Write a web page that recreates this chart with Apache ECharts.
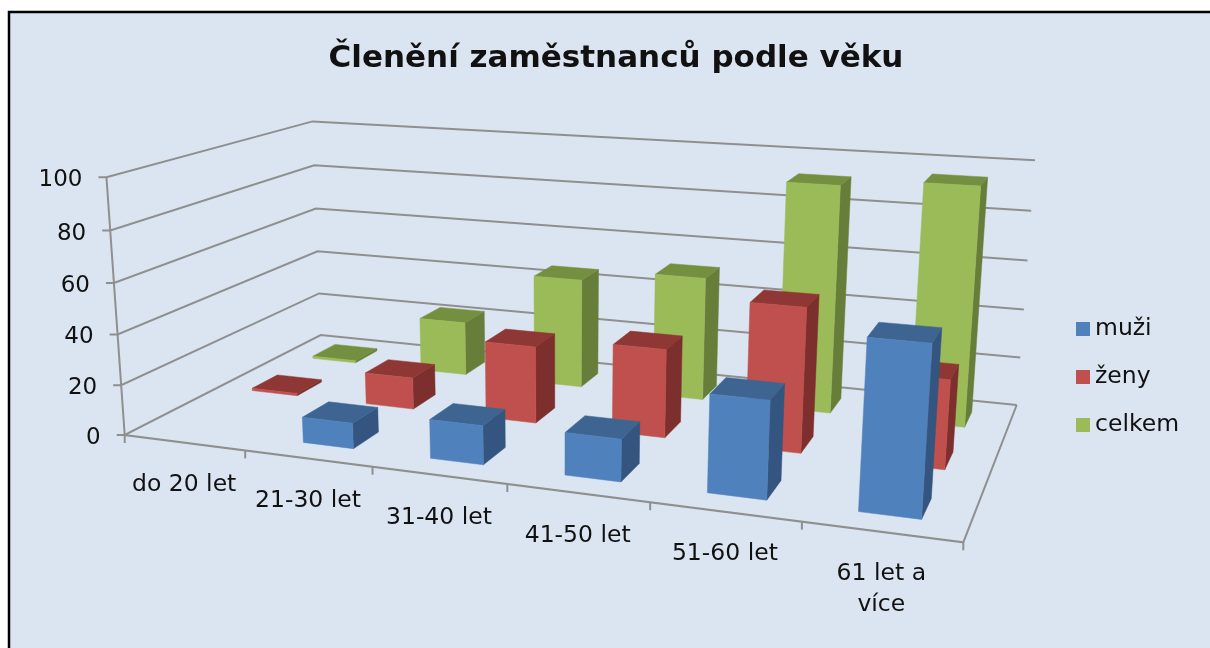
<!DOCTYPE html>
<html><head><meta charset="utf-8">
<style>html,body{margin:0;padding:0;background:#fff}#c{width:1210px;height:648px}</style>
<script src="https://cdn.jsdelivr.net/npm/echarts@6/dist/echarts.min.js"></script>
</head><body><div id="c"></div>
<script>
const categories = ['do 20 let','21-30 let','31-40 let','41-50 let','51-60 let','61 let a\nvíce'];
const muzi   = [0, 10, 15, 16, 36, 61];
const zeny   = [1, 13, 31, 35, 56, 34];
const celkem = [1, 23, 46, 51, 92, 95];
const valueTicks = [0,20,40,60,80,100];
const seriesNames = ['muži','ženy','celkem'];
const FONT = '"DejaVu Sans"';

// perspective camera of the 3-D plot
const G = {left:100, top:100, width:600, height:300};
const floor = [[124.7,435],[963.3,542.3],[1016.7,405],[320.7,335]];
const tops = [[0,0,106.3,177.3],[0,1,312.7,121.7],[1,1,1035,160]];
function makeCam(){
  const [q0,q1,q2,q3]=floor;
  const dx1=q1[0]-q2[0],dx2=q3[0]-q2[0],sx=q0[0]-q1[0]+q2[0]-q3[0];
  const dy1=q1[1]-q2[1],dy2=q3[1]-q2[1],sy=q0[1]-q1[1]+q2[1]-q3[1];
  const den=dx1*dy2-dx2*dy1;
  const g=(sx*dy2-dx2*sy)/den,h=(dx1*sy-sx*dy1)/den;
  const a=q1[0]-q0[0]+g*q1[0],b=q3[0]-q0[0]+h*q3[0],c=q0[0];
  const d=q1[1]-q0[1]+g*q1[1],e=q3[1]-q0[1]+h*q3[1],f=q0[1];
  // least squares for the vertical column
  const rows=[],rhs=[];
  tops.forEach(([u,v,x,y])=>{
    const W=g*u+h*v+1;
    rows.push([1,0,-x]);rhs.push(x*W-(a*u+b*v+c));
    rows.push([0,1,-y]);rhs.push(y*W-(d*u+e*v+f));
  });
  const A=[[0,0,0,0],[0,0,0,0],[0,0,0,0]];
  rows.forEach((r,k)=>{for(let i=0;i<3;i++){for(let j=0;j<3;j++)A[i][j]+=r[i]*r[j];A[i][3]+=r[i]*rhs[k];}});
  for(let i=0;i<3;i++){
    let m=i;for(let k=i+1;k<3;k++)if(Math.abs(A[k][i])>Math.abs(A[m][i]))m=k;
    [A[i],A[m]]=[A[m],A[i]];
    for(let k=0;k<3;k++)if(k!==i){const t=A[k][i]/A[i][i];for(let j=i;j<4;j++)A[k][j]-=t*A[i][j];}
  }
  const p=A[0][3]/A[0][0],q=A[1][3]/A[1][1],r=A[2][3]/A[2][2];
  return (u,v,t)=>{const W=g*u+h*v+1+r*t;return [(a*u+b*v+c+p*t)/W,(d*u+e*v+f+q*t)/W];};
}
const cam=makeCam();
// grid pixel + depth -> screen
const P3=(px,py,v)=>cam((px-G.left)/G.width,v,(G.top+G.height-py)/G.height);

const BAR=0.4;
const palettes=[
 {front:'#4F81BD',top:'#3E6592',side:'#33557F'},
 {front:'#C0504D',top:'#8E3735',side:'#7D2F2D'},
 {front:'#9BBB59',top:'#748F3F',side:'#677E3A'}];

function poly(points,fill){return {type:'polygon',shape:{points},style:{fill,stroke:fill,lineWidth:0.5}};}
function barRender(row){
  return (params,api)=>{
    const val=api.value(1);
    if(!val) return {type:'group',children:[]};
    const top=api.coord([api.value(0),val]), base=api.coord([api.value(0),0]);
    const band=api.size([1,0])[0], hw=band*BAR/2;
    const d=BAR/3/2, vc=(row+0.5)/3;
    const x0=top[0]-hw,x1=top[0]+hw,v0=vc-d,v1=vc+d,yt=top[1],yb=base[1];
    const c=palettes[row];
    return {type:'group',children:[
      poly([P3(x1,yb,v0),P3(x1,yb,v1),P3(x1,yt,v1),P3(x1,yt,v0)],c.side),
      poly([P3(x0,yt,v0),P3(x1,yt,v0),P3(x1,yt,v1),P3(x0,yt,v1)],c.top),
      poly([P3(x0,yb,v0),P3(x1,yb,v0),P3(x1,yt,v0),P3(x0,yt,v0)],c.front)
    ]};
  };
}
const LINE='#8F8F8F';
function ln(points){return {type:'polyline',shape:{points},style:{stroke:LINE,lineWidth:2,fill:null}};}
function wallRender(params,api){
  const val=api.value(1);
  const pt=api.coord([0,val]);
  const xL=G.left,xR=G.left+G.width,y=pt[1];
  const a=P3(xL,y,0),b=P3(xL,y,1),c=P3(xR,y,1);
  return {type:'group',children:[
    ln([[a[0]-8,a[1]],a,b,c]),
    {type:'text',style:{x:a[0]-24,y:a[1]+3,text:String(val),align:'right',verticalAlign:'middle',
      font:'23px '+FONT,fill:'#111'}}
  ]};
}
function frameRender(params,api){
  const base=api.coord([0,0])[1],top=api.coord([0,100])[1];
  const xL=G.left,xR=G.left+G.width;
  return {type:'group',children:[
    ln([P3(xL,top,0),P3(xL,base,0),P3(xR,base,0),P3(xR,base,1)])
  ]};
}
function catRender(params,api){
  const i=api.value(0);
  const c=api.coord([i,0]),band=api.size([1,0])[0];
  const yb=c[1];
  const left=P3(c[0]-band/2,yb,0),mid=P3(c[0],yb,0),right=P3(c[0]+band/2,yb,0);
  const ch=[ln([left,[left[0],left[1]+8]]),
    {type:'text',style:{x:mid[0],y:mid[1]+27,text:categories[i],align:'center',verticalAlign:'top',
      font:'23.5px '+FONT,fill:'#111',lineHeight:31}}];
  if(i===categories.length-1) ch.push(ln([right,[right[0],right[1]+8]]));
  return {type:'group',children:ch};
}
const custom=(name,data,renderItem,z,extra)=>Object.assign({type:'custom',name,data,renderItem,z,
  coordinateSystem:'cartesian2d',silent:true,animation:false,clip:false,encode:{x:0,y:1}},extra||{});
const pairs=a=>a.map((v,i)=>[i,v]);

const chart=echarts.init(document.getElementById('c'),null,{renderer:'canvas',width:1210,height:648});
chart.setOption({
  animation:false,
  backgroundColor:'#ffffff',
  title:{text:'Členění zaměstnanců podle věku',left:611,top:38,textAlign:'center',
    textStyle:{fontFamily:FONT,fontWeight:'bold',fontSize:31,color:'#111'}},
  legend:{orient:'vertical',left:1076,top:317,padding:0,itemWidth:14,itemHeight:14,itemGap:24,icon:'rect',selectedMode:false,
    data:seriesNames,textStyle:{fontFamily:FONT,fontSize:23.5,color:'#111'}},
  graphic:[{type:'rect',z:-10,shape:{x:9,y:12,width:1220,height:660},style:{fill:'#DBE5F1',stroke:'#000',lineWidth:2.5}}],
  grid:G,
  xAxis:{type:'category',data:categories,show:false},
  yAxis:{type:'value',min:0,max:100,interval:20,show:false},
  series:[
    custom('walls',valueTicks.map(v=>[0,v]),wallRender,1),
    custom('frame',[[0,0]],frameRender,1),
    custom('cats',categories.map((c,i)=>[i,0]),catRender,1),
    custom(seriesNames[2],pairs(celkem),barRender(2),4,{itemStyle:{color:palettes[2].front}}),
    custom(seriesNames[1],pairs(zeny),barRender(1),5,{itemStyle:{color:palettes[1].front}}),
    custom(seriesNames[0],pairs(muzi),barRender(0),6,{itemStyle:{color:palettes[0].front}})
  ]
});
</script></body></html>
